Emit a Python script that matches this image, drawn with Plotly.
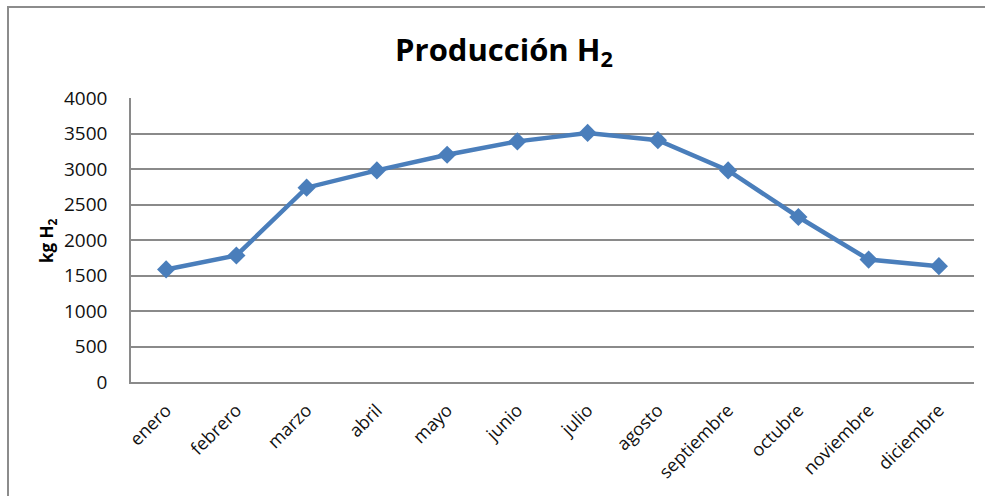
import plotly.graph_objects as go

months = ["enero", "febrero", "marzo", "abril", "mayo", "junio", "julio",
          "agosto", "septiembre", "octubre", "noviembre", "diciembre"]
production_kg = [1585, 1782, 2737, 2980, 3201, 3389, 3508, 3406, 2980, 2324, 1725, 1631]
y_ticks = [0, 500, 1000, 1500, 2000, 2500, 3000, 3500, 4000]

W, H = 985, 496
L, R, T, B = 131, 11, 98, 114
pw, ph = W - L - R, H - T - B

def px(x):
    return (x - L) / pw

def py(y):
    return (H - B - y) / ph

FONT = "'Open Sans', Lato, sans-serif"
GRID = "#8a8a8a"

fig = go.Figure()
fig.add_trace(go.Scatter(
    x=months, y=production_kg, mode="lines+markers",
    line=dict(color="#4A7EBB", width=4.5),
    marker=dict(symbol="diamond", size=14, color="#4A7EBB"),
    showlegend=False, cliponaxis=False,
))

fig.update_layout(
    width=W, height=H,
    margin=dict(l=L, r=R, t=T, b=B),
    paper_bgcolor="white", plot_bgcolor="white",
    font=dict(family=FONT, size=18, color="#111111"),
    title=dict(text="<b>Producción H<sub>2</sub></b>", x=504 / W, xanchor="center",
               y=1 - 50 / H, yanchor="middle",
               font=dict(size=31, color="black", family=FONT)),
    xaxis=dict(type="category", range=[-0.5, 11.5], tickangle=-45, showgrid=False,
               showline=True, linecolor=GRID, linewidth=1.5,
               ticks="", ticklabelstandoff=9, zeroline=False,
               tickfont=dict(size=18)),
    yaxis=dict(range=[0, 4000], tickvals=y_ticks, showgrid=True, gridcolor=GRID,
               gridwidth=1.5, showline=True, linecolor=GRID, linewidth=1.5,
               ticks="", ticklabelstandoff=18, zeroline=False,
               tickfont=dict(size=19)),
    shapes=[dict(type="rect", xref="paper", yref="paper",
                 x0=px(8), x1=px(1100), y0=py(700), y1=py(7),
                 line=dict(color="#8c8c8c", width=2), layer="below")],
    annotations=[dict(text="<b>kg H<sub>2</sub></b>", xref="paper", yref="paper",
                      x=px(47), y=py(241), textangle=-90, showarrow=False,
                      xanchor="center", yanchor="middle",
                      font=dict(size=17, color="black", family=FONT))],
)

fig.write_html("out.html")
